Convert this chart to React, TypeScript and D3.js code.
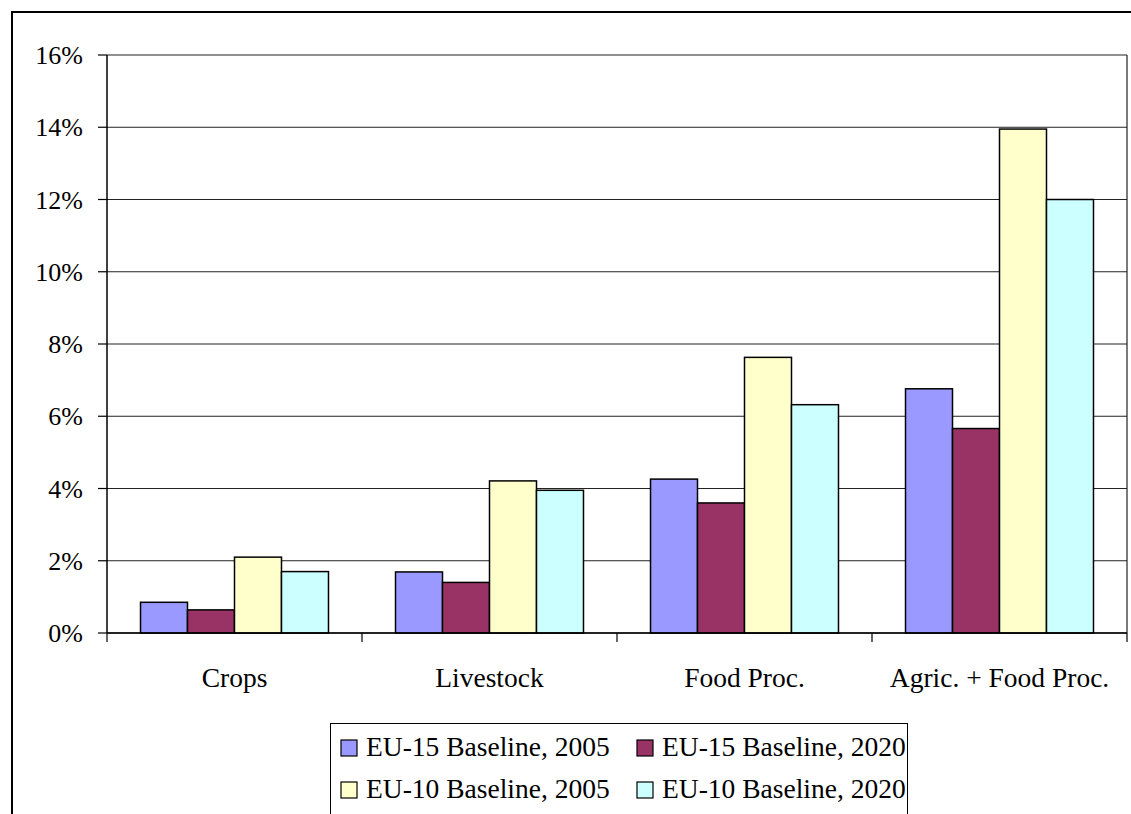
import { useEffect } from 'react';
import * as d3 from 'd3';

const categories = ['Crops', 'Livestock', 'Food Proc.', 'Agric. + Food Proc.'];
const seriesNames = [
  'EU-15 Baseline, 2005',
  'EU-15 Baseline, 2020',
  'EU-10 Baseline, 2005',
  'EU-10 Baseline, 2020',
];
const eu15_2005 = [0.85, 1.69, 4.26, 6.76];
const eu15_2020 = [0.64, 1.4, 3.6, 5.66];
const eu10_2005 = [2.1, 4.21, 7.63, 13.95];
const eu10_2020 = [1.7, 3.95, 6.32, 12.0];
const yTicks = [0, 2, 4, 6, 8, 10, 12, 14, 16];

const seriesValues = [eu15_2005, eu15_2020, eu10_2005, eu10_2020];
const colors = ['#9999FF', '#993366', '#FFFFCC', '#CCFFFF'];

const W = 1131;
const H = 814;
const FONT = '"Liberation Serif", "Times New Roman", serif';

export default function App() {
  useEffect(() => {
    document.body.style.margin = '0';
  }, []);

  const left = 107;
  const right = 1127;
  const top = 55;
  const bottom = 633;

  const x0 = d3.scaleBand<string>().domain(categories).range([left, right]).padding(0);
  const x1 = d3
    .scaleBand<string>()
    .domain(seriesNames)
    .range([0, x0.bandwidth()])
    .paddingInner(0)
    .paddingOuter(0.713);
  const y = d3.scaleLinear().domain([0, 16]).range([bottom, top]);

  const legendItems = seriesNames.map((name, i) => ({
    name,
    color: colors[i],
    col: i % 2,
    row: Math.floor(i / 2),
  }));
  const legendColX = [341, 637];
  const legendRowY = [740, 782];

  return (
    <svg width={W} height={H} style={{ display: 'block' }} fontFamily={FONT}>
      <rect x={0} y={0} width={W} height={H} fill="#fff" />
      {/* outer frame, runs past the right and bottom edge */}
      <rect x={12} y={12} width={W + 20} height={H + 20} fill="none" stroke="#000" strokeWidth={2} />

      {/* gridlines */}
      {yTicks.map((t) => (
        <line key={'g' + t} x1={left} x2={right} y1={y(t)} y2={y(t)} stroke="#222" strokeWidth={1.2} />
      ))}
      {/* plot right edge */}
      <line x1={right} x2={right} y1={top} y2={bottom} stroke="#222" strokeWidth={1.2} />

      {/* bars */}
      {categories.map((c, ci) => (
        <g key={c} transform={`translate(${x0(c)},0)`}>
          {seriesNames.map((s, si) => {
            const v = seriesValues[si][ci];
            return (
              <rect
                key={s}
                x={x1(s)}
                y={y(v)}
                width={x1.bandwidth()}
                height={y(0) - y(v)}
                fill={colors[si]}
                stroke="#000"
                strokeWidth={1.5}
              />
            );
          })}
        </g>
      ))}

      {/* y axis */}
      <line x1={left} x2={left} y1={top} y2={bottom} stroke="#000" strokeWidth={1.5} />
      {yTicks.map((t) => (
        <g key={'y' + t}>
          <line x1={left - 9} x2={left} y1={y(t)} y2={y(t)} stroke="#000" strokeWidth={1.2} />
          <text x={83} y={y(t) + 9} textAnchor="end" fontSize={26} fill="#000">
            {t + '%'}
          </text>
        </g>
      ))}

      {/* x axis */}
      <line x1={left} x2={right} y1={bottom} y2={bottom} stroke="#000" strokeWidth={1.5} />
      {[...categories.map((c) => x0(c) as number), right].map((xv, i) => (
        <line key={'xt' + i} x1={xv} x2={xv} y1={bottom} y2={bottom + 9} stroke="#000" strokeWidth={1.2} />
      ))}
      {categories.map((c) => (
        <text
          key={'xl' + c}
          x={(x0(c) as number) + x0.bandwidth() / 2}
          y={687}
          textAnchor="middle"
          fontSize={27.5}
          fill="#000"
        >
          {c}
        </text>
      ))}

      {/* legend */}
      <rect x={330.5} y={723.5} width={577} height={120} fill="#fff" stroke="#000" strokeWidth={1} />
      {legendItems.map((d) => (
        <g key={d.name}>
          <rect
            x={legendColX[d.col]}
            y={legendRowY[d.row]}
            width={16}
            height={16}
            fill={d.color}
            stroke="#000"
            strokeWidth={1.2}
          />
          <text x={legendColX[d.col] + 25} y={legendRowY[d.row] + 16} fontSize={27.5} fill="#000">
            {d.name}
          </text>
        </g>
      ))}
    </svg>
  );
}
